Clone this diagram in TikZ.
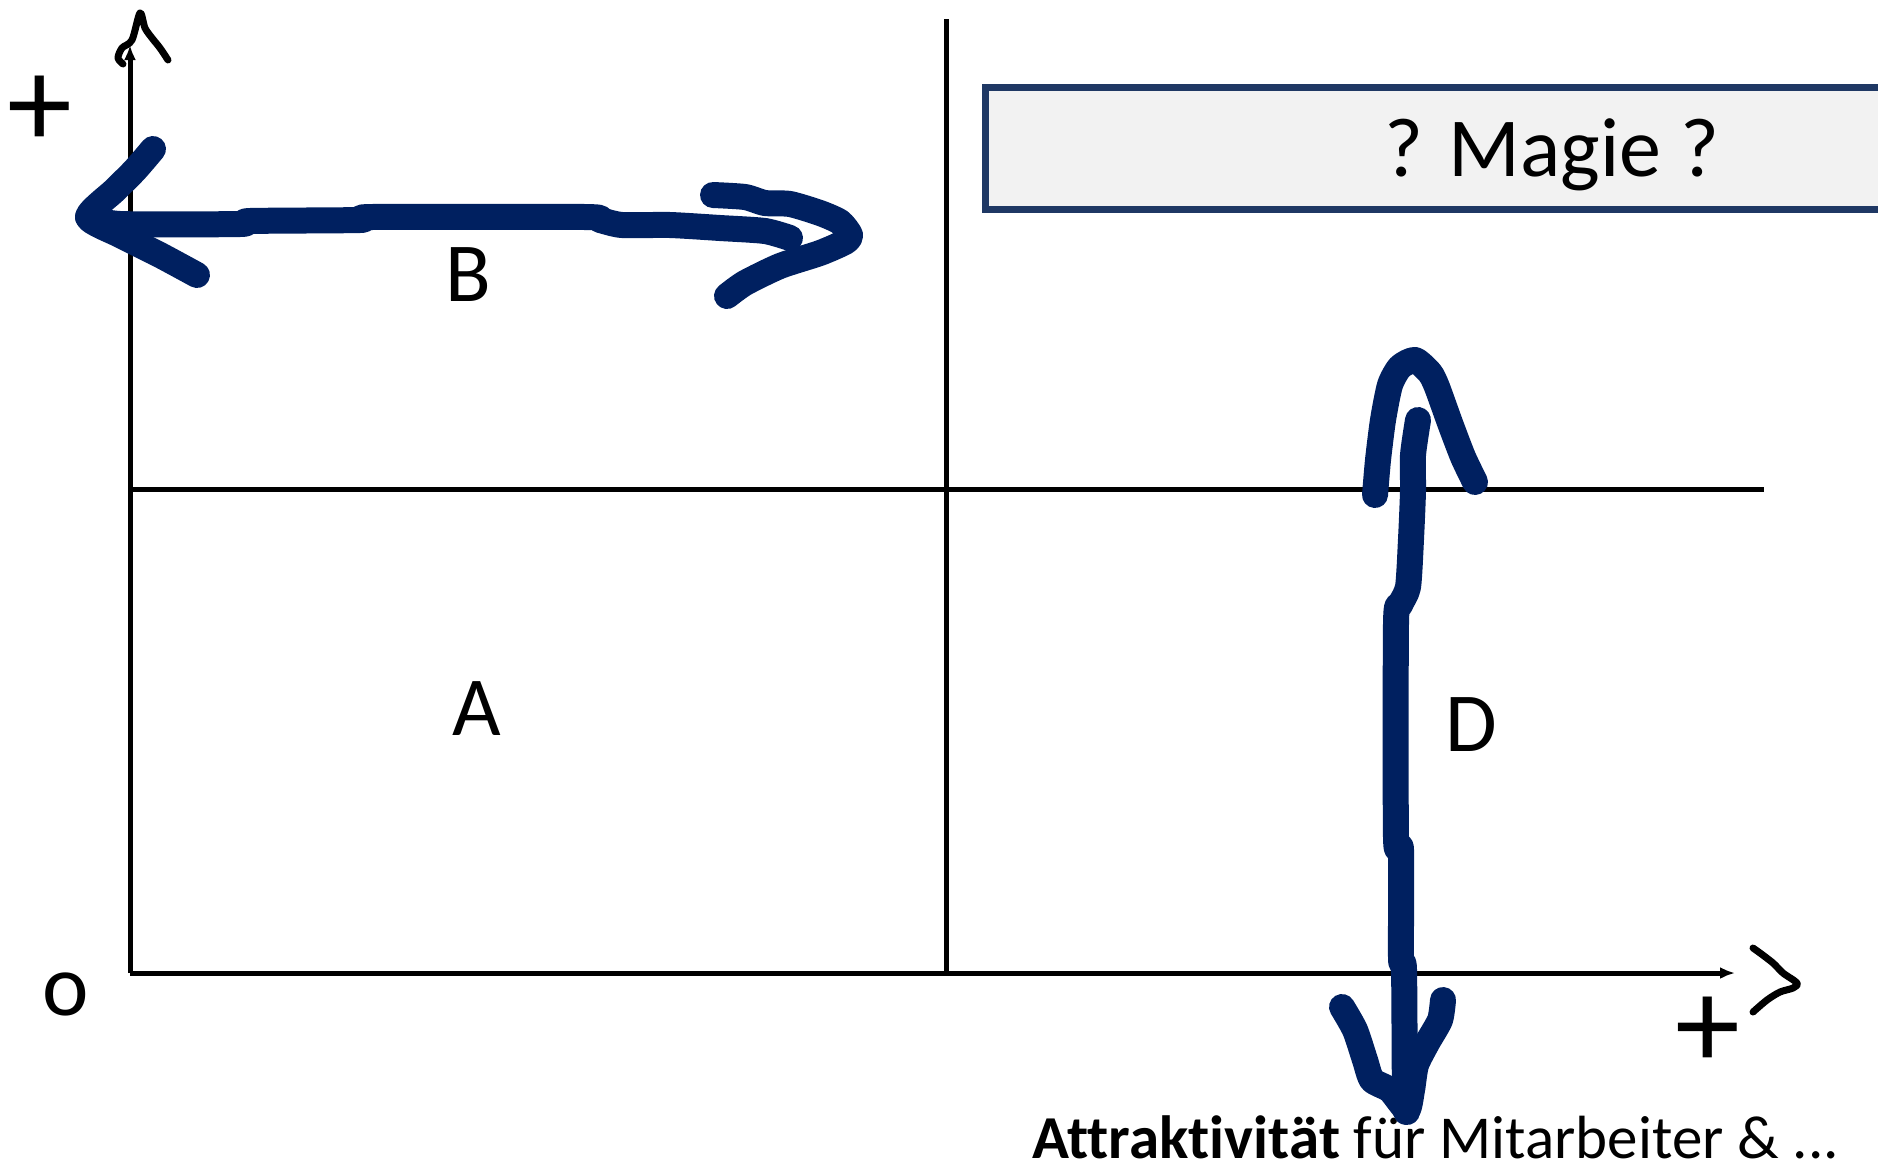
\documentclass[tikz,border=0pt]{standalone}
\usepackage{fontspec}
\setmainfont{Carlito}[Ligatures={CommonOff}]
\usetikzlibrary{arrows.meta}
\definecolor{inkblue}{HTML}{002060}
\definecolor{boxline}{HTML}{1F3864}
\definecolor{boxfill}{HTML}{F2F2F2}
\tikzset{
  axisline/.style={line width=5pt},
  bluepen/.style={draw=inkblue,line width=26pt,line cap=round,line join=round},
  blackpen/.style={draw=black,line width=7pt,line cap=round,line join=round},
  lbl/.style={inner sep=0pt,font=\fontsize{84}{100}\selectfont},
  bigsign/.style={inner sep=0pt,font=\fontsize{130}{150}\selectfont},
}
\begin{document}
\begin{tikzpicture}[x=1pt,y=-1pt]
\useasboundingbox (0,0) rectangle (1878,1171);

% axes
\coordinate (O) at (130,973);
\coordinate (ytip) at (130,45);
\coordinate (xtip) at (1735,973);
\draw[axisline,-{Latex[length=15pt,width=12pt]}] (O) -- (ytip);
\draw[axisline,-{Latex[length=15pt,width=12pt]}] (O) -- (xtip);

% quadrant lines
\coordinate (vtop) at (946,19);
\coordinate (vbot) at (946,973);
\coordinate (hleft) at (130,489);
\coordinate (hright) at (1764,489);
\draw[axisline] (vtop) -- (vbot);
\draw[axisline] (hleft) -- (hright);

% magic box
\node[draw=boxline,line width=7pt,fill=boxfill,minimum width=920pt,minimum height=122pt,anchor=north west,inner sep=0pt] (magiebox) at (982,84) {};
\node[lbl,anchor=base] (magie) at (1552,176) {? Magie ?};

% labels
\node[lbl] (labB) at (468,275) {B};
\node[lbl] (labA) at (477,709) {A};
\node[lbl] (labD) at (1471,725) {D};
\node[inner sep=0pt,font=\fontsize{88}{100}\selectfont] (labO) at (66,994) {o};
\node[bigsign] (plusY) at (40,112) {+};
\node[bigsign] (plusX) at (1708,1033) {+};
\node[inner sep=0pt,anchor=base west,font=\fontsize{61}{70}\selectfont] (xlabel) at (1032,1158) {\textbf{Attrakt\kern0pt ivit\kern0pt ät} für Mitarbeiter \& ...};

% hand-drawn black marks at the axis ends
\draw[blackpen] plot[smooth,tension=0.5] coordinates {(123,64) (118,58) (122,48) (132,40) (140,13) (145,28) (152,38) (160,48) (168,60)};
\draw[blackpen] plot[smooth,tension=0.5] coordinates {(1753,948) (1760,953) (1773,963) (1783,973) (1797,983) (1793,988) (1780,992) (1767,1000) (1753,1012)};

% B arrow (blue, hand drawn)
\draw[bluepen] plot[smooth,tension=0.4] coordinates {(88,217) (120,224) (240,224) (250,221) (360,220) (372,217) (585,217) (600,220) (622,225) (670,225) (720,228) (765,231) (790,238)};
\draw[bluepen] plot[smooth,tension=0.4] coordinates {(153,149) (135,170) (115,190) (88,217) (120,235) (160,255) (197,275)};
\draw[bluepen] plot[smooth,tension=0.4] coordinates {(713,195) (745,197) (765,203) (790,204) (820,213) (840,222) (850,235) (845,242) (820,253) (780,266) (745,283) (727,296)};

% D arrow (blue, hand drawn)
\draw[bluepen] plot[smooth,tension=0.4] coordinates {(1418,420) (1413,455) (1413,491) (1411,539) (1408,587) (1400,605) (1396,623) (1396,838) (1401,850) (1401,958) (1404,970) (1405,1100) (1407,1112)};
\draw[bluepen] plot[smooth,tension=0.4] coordinates {(1375,495) (1378,460) (1383,420) (1390,385) (1400,367) (1415,360) (1430,373) (1437,387) (1450,423) (1463,457) (1475,482)};
\draw[bluepen] plot[smooth,tension=0.4] coordinates {(1342,1007) (1355,1030) (1365,1060) (1372,1080) (1390,1090) (1407,1110) (1412,1090) (1416,1065) (1427,1043) (1440,1020) (1443,1000)};
\end{tikzpicture}
\end{document}
